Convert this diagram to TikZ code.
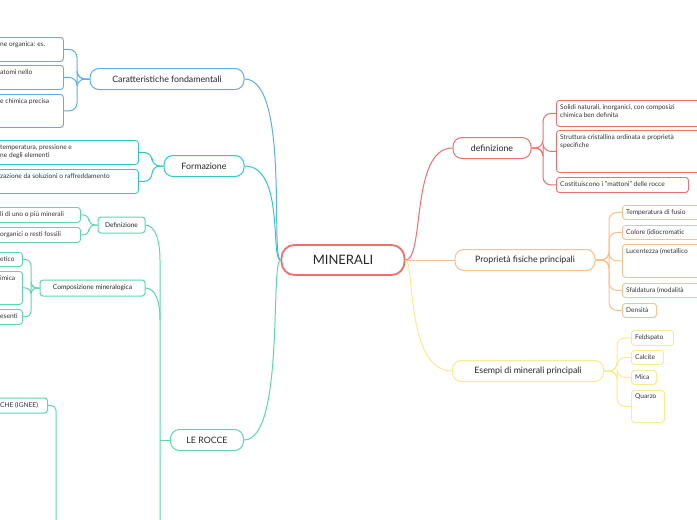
\documentclass[tikz,border=0pt]{standalone}
\usepackage{fontspec}
\setmainfont{Lato}
\usetikzlibrary{calc}
\definecolor{cred}{HTML}{F46D6D}
\definecolor{cblue}{HTML}{5AAEF0}
\definecolor{cteal}{HTML}{2EC9CC}
\definecolor{cmint}{HTML}{5AD8AA}
\definecolor{corange}{HTML}{FBBF8C}
\definecolor{cyellow}{HTML}{FBEA8C}
\tikzset{
 bx/.style={draw=#1, line width=0.9pt, rounded corners=3pt, fill=white, anchor=north west, inner sep=0pt},
 main/.style={draw=#1, line width=1pt, rounded corners=9pt, fill=white, font=\fontsize{8.8}{10}\selectfont, text=black!85},
 txt/.style={anchor=north west, inner sep=0pt, font=\fontsize{6.6}{8.2}\selectfont, text=black!80, align=left},
 ln/.style={draw=#1, line width=1pt},
}
\newcommand{\cbox}[7]{% name color x y w h text
 \node[bx=#2, minimum width=#5pt, minimum height=#6pt] (#1) at (#3,-#4) {};
 \node[txt] at (#3+4,-#4-4) {#7};}
\begin{document}
\begin{tikzpicture}[x=1pt,y=1pt]
\useasboundingbox (0,0) rectangle (697,-520);
\clip (0,0) rectangle (697,-520);
\node[draw=cred, line width=1.8pt, rounded corners=13pt, minimum width=123pt, minimum height=30pt, font=\fontsize{13}{15}\selectfont, text=black!85] (c) at (343,-260) {MINERALI};
\node[main=cred, minimum width=78pt, minimum height=21pt] (def) at (492,-148) {definizione};
\node[main=corange, minimum width=140pt, minimum height=21pt] (prop) at (525,-260) {Proprietà fisiche principali};
\node[main=cyellow, minimum width=151pt, minimum height=21pt] (es) at (528,-371) {Esempi di minerali principali};
\node[main=cblue, minimum width=154pt, minimum height=21pt] (car) at (167,-79) {Caratteristiche fondamentali};
\node[main=cteal, minimum width=80pt, minimum height=21pt] (form) at (204,-166) {Formazione};
\node[main=cmint, minimum width=73pt, minimum height=21pt] (roc) at (207,-440) {LE ROCCE};
\draw[ln=cred] (c.east) .. controls (425,-260) and (410,-148) .. (def.west);
\draw[ln=corange] (c.east) -- (prop.west);
\draw[ln=cyellow] (c.east) .. controls (415,-260) and (405,-371) .. (es.west);
\draw[ln=cblue] (c.west) .. controls (270,-260) and (290,-79) .. (car.east);
\draw[ln=cteal] (c.west) .. controls (270,-260) and (285,-166) .. (form.east);
\draw[ln=cmint] (c.west) .. controls (270,-260) and (285,-440) .. (roc.east);
\cbox{d1}{cred}{556}{100}{150}{26}{Solidi naturali, inorganici, con composizi\\chimica ben definita}
\cbox{d2}{cred}{556}{130}{150}{42}{Struttura cristallina ordinata e proprietà\\specifiche}
\cbox{d3}{cred}{556}{177}{132}{15}{Costituiscono i "mattoni" delle rocce}
\foreach \n in {d1,d2,d3}{\draw[ln=cred, rounded corners=8pt] (def.east) -- (543,-148) |- (\n.west);}
\cbox{p1}{corange}{622}{205}{90}{14}{Temperatura di fusio}
\cbox{p2}{corange}{622}{225}{90}{14}{Colore (idiocromatic}
\cbox{p3}{corange}{622}{244}{90}{33}{Lucentezza (metallico}
\cbox{p4}{corange}{622}{283}{90}{14}{Sfaldatura (modalità}
\cbox{p5}{corange}{622}{303}{34}{14}{Densità}
\foreach \n in {p1,p2,p3,p4,p5}{\draw[ln=corange, rounded corners=8pt] (prop.east) -- (609,-260) |- (\n.west);}
\cbox{e1}{cyellow}{631}{330}{42}{15}{Feldspato}
\cbox{e2}{cyellow}{631}{350}{32}{14}{Calcite}
\cbox{e3}{cyellow}{631}{370}{25}{14}{Mica}
\cbox{e4}{cyellow}{631}{390}{33}{32}{Quarzo}
\foreach \n in {e1,e2,e3,e4}{\draw[ln=cyellow, rounded corners=8pt] (es.east) -- (617,-371) |- (\n.west);}
\cbox{k1}{cblue}{-100}{37}{163}{24}{}
\cbox{k2}{cblue}{-100}{65}{163}{24}{}
\cbox{k3}{cblue}{-100}{94}{163}{33}{}
\node[txt] at (0,-41) {ne organica: es.};
\node[txt] at (0,-69) {atomi nello};
\node[txt] at (0,-98) {e chimica precisa};
\foreach \n in {k1,k2,k3}{\draw[ln=cblue, rounded corners=8pt] (car.west) -- (77,-79) |- (\n.east);}
\cbox{f1}{cteal}{-100}{140}{238}{24}{}
\cbox{f2}{cteal}{-100}{169}{238}{24}{}
\node[txt] at (0,-144) {temperatura, pressione e\\ne degli elementi};
\node[txt] at (0,-173) {zazione da soluzioni o raffreddamento};
\foreach \n in {f1,f2}{\draw[ln=cteal, rounded corners=8pt] (form.west) -- (152,-166) |- (\n.east);}
\draw[ln=cmint] (roc.west) -- (160,-440);
\draw[ln=cmint] (145,-225) .. controls (155,-225) and (160,-240) .. (160,-260) -- (160,-520);
\draw[ln=cmint] (145,-288) .. controls (155,-288) and (160,-300) .. (160,-320);
\node[main=cmint, rounded corners=3pt, minimum width=47pt, minimum height=16pt, font=\fontsize{6.6}{8}\selectfont] (rdef) at (121.5,-225) {Definizione};
\node[main=cmint, rounded corners=3pt, minimum width=105pt, minimum height=16pt, font=\fontsize{6.6}{8}\selectfont] (rcomp) at (92.5,-288) {Composizione mineralogica};
\node[main=cmint, rounded corners=3pt, minimum width=100pt, minimum height=15pt, anchor=east] (rign) at (48,-405.5) {};
\node[txt] at (0,-402.5) {CHE (IGNEE)};
\draw[ln=cmint, rounded corners=5pt] (rign.east) -- (56,-405.5) -- (56,-520);
\cbox{r1}{cmint}{-100}{207}{180}{15}{}
\cbox{r2}{cmint}{-100}{227}{180}{15}{}
\node[txt] at (0,-211) {li di uno o più minerali};
\node[txt] at (0,-231) {organici o resti fossili};
\foreach \n in {r1,r2}{\draw[ln=cmint, rounded corners=6pt] (rdef.west) -- (89,-225) |- (\n.east);}
\cbox{q1}{cmint}{-100}{252}{122}{14}{}
\cbox{q2}{cmint}{-100}{271}{122}{33}{}
\cbox{q3}{cmint}{-100}{309}{122}{15}{}
\node[txt] at (0,-256) {etico};
\node[txt] at (0,-275) {imica};
\node[txt] at (0,-313) {esenti};
\foreach \n in {q1,q2,q3}{\draw[ln=cmint, rounded corners=6pt] (rcomp.west) -- (31,-288) |- (\n.east);}
\end{tikzpicture}
\end{document}
